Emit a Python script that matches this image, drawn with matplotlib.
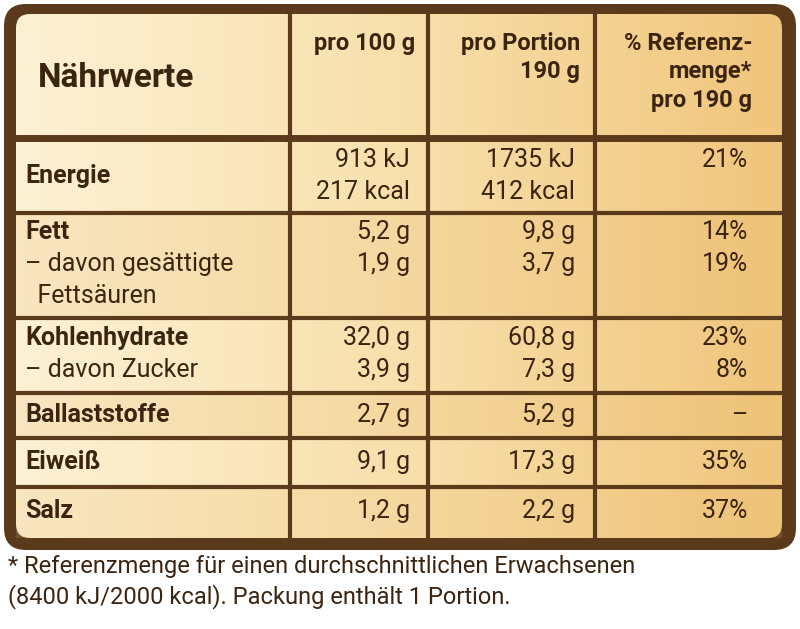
import matplotlib.pyplot as plt
import numpy as np
from matplotlib.patches import FancyBboxPatch, Rectangle
from matplotlib.colors import LinearSegmentedColormap

# table content
col_headers = ["pro 100 g", "pro Portion\n190 g", "% Referenz-\nmenge*\npro 190 g"]
row_labels = [["Energie"], ["Fett", "– davon gesättigte", "  Fettsäuren"],
              ["Kohlenhydrate", "– davon Zucker"], ["Ballaststoffe"], ["Eiweiß"], ["Salz"]]
per_100g = [["913 kJ", "217 kcal"], ["5,2 g", "1,9 g"], ["32,0 g", "3,9 g"], ["2,7 g"], ["9,1 g"], ["1,2 g"]]
per_portion = [["1735 kJ", "412 kcal"], ["9,8 g", "3,7 g"], ["60,8 g", "7,3 g"], ["5,2 g"], ["17,3 g"], ["2,2 g"]]
reference = [["21%"], ["14%", "19%"], ["23%", "8%"], ["–"], ["35%"], ["37%"]]
footnote = ("* Referenzmenge für einen durchschnittlichen Erwachsenen\n"
            "(8400 kJ/2000 kcal). Packung enthält 1 Portion.")

BROWN = "#5b3a1c"
TEXT = "#3b2410"
FONT = "Roboto"

fig = plt.figure(figsize=(8, 6.29), dpi=100)
ax = fig.add_axes([0, 0, 1, 1])
ax.set_xlim(0, 800)
ax.set_ylim(629, 0)
ax.axis("off")

# outer brown frame
ax.add_patch(FancyBboxPatch((4, 4), 792, 546, boxstyle="round,pad=0,rounding_size=22",
                            facecolor=BROWN, edgecolor="none"))

# gradient interior
cmap = LinearSegmentedColormap.from_list("g", ["#fdf1d4", "#f8e0ac", "#f0c57c"])
grad = np.tile(np.linspace(0, 1, 300), (50, 1))
x0, x1, y0, y1 = 16, 782, 14, 538
im = ax.imshow(grad, cmap=cmap, extent=(x0, x1, y1, y0), aspect="auto", zorder=1)
clip = FancyBboxPatch((x0, y0), x1 - x0, y1 - y0, boxstyle="round,pad=0,rounding_size=14",
                      transform=ax.transData, facecolor="none", edgecolor="none")
ax.add_patch(clip)
im.set_clip_path(clip)

# row bands (alternating tint)
row_edges = [138, 213, 318, 393, 438, 487, 538]
for i in range(len(row_edges) - 1):
    if i % 2 == 1:
        ax.add_patch(Rectangle((x0, row_edges[i]), x1 - x0, row_edges[i + 1] - row_edges[i],
                               facecolor="#e8b868", alpha=0.18, edgecolor="none", zorder=2))

# grid lines
for x in [290, 428, 595]:
    ax.plot([x, x], [y0, y1], color=BROWN, lw=3, zorder=3)
ax.plot([x0, x1], [138, 138], color=BROWN, lw=5, zorder=3)
for y in row_edges[1:-1]:
    ax.plot([x0, x1], [y, y], color=BROWN, lw=3, zorder=3)

# header
ax.text(38, 78, "Nährwerte", fontsize=24, fontweight="bold", color=TEXT, family=FONT,
        va="center", ha="left", zorder=4)
for xr, h in zip([415, 580, 752], col_headers):
    ax.text(xr, 32, h, fontsize=17, fontweight="bold", color=TEXT, family=FONT,
            va="top", ha="right", linespacing=1.3, zorder=4)

# body
line_h = 32
row_tops = [160, 232, 338, 415, 462, 511]
for r, top in enumerate(row_tops):
    for j, lab in enumerate(row_labels[r]):
        y_lab = 176 if r == 0 else top + j * line_h
        ax.text(25, y_lab, lab, fontsize=18, fontweight="bold" if j == 0 else "normal",
                color=TEXT, family=FONT, va="center", ha="left", zorder=4)
    for xr, col in zip([410, 575, 748], [per_100g, per_portion, reference]):
        for j, v in enumerate(col[r]):
            ax.text(xr, top + j * line_h, v, fontsize=18, color=TEXT, family=FONT,
                    va="center", ha="right", zorder=4)

ax.text(8, 582, footnote, fontsize=17, color=TEXT, family=FONT, va="center", ha="left",
        linespacing=1.3)

fig.savefig("out.png", dpi=100)
